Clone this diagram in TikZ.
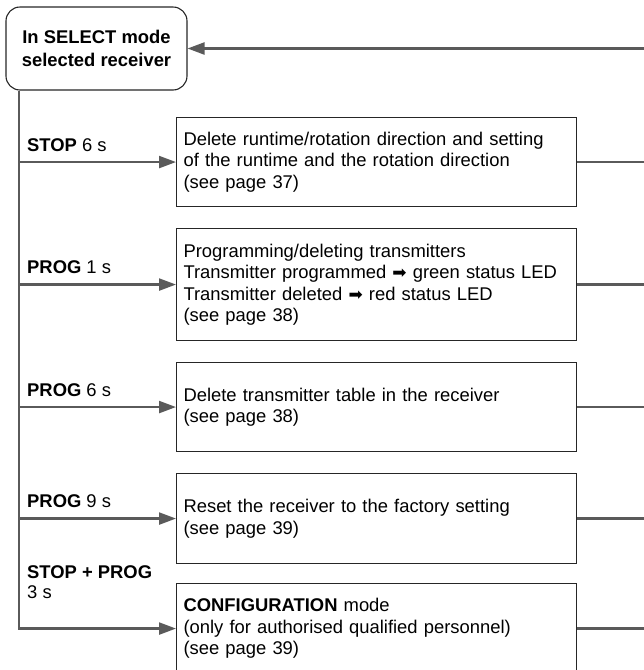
\documentclass[tikz,border=0pt]{standalone}
\usepackage{fontspec}
\setmainfont{Liberation Sans}
\newfontfamily\djv{DejaVu Sans}
\usetikzlibrary{arrows.meta}
\definecolor{linegray}{HTML}{5A5A5A}
\newcommand{\rarr}{{\djv\fontsize{17}{17}\selectfont\raisebox{0pt}{\symbol{"27A1}}}}
\begin{document}
\begin{tikzpicture}[x=1pt,y=-1pt,
  conn/.style={draw=linegray, line width=2.3pt},
  arr/.style={conn, -{Triangle[length=17pt,width=12pt]}},
  actbox/.style={draw=black!85, line width=1.1pt, minimum width=400pt, text width=386pt,
    align=left, inner xsep=7pt, inner ysep=0pt, anchor=north west,
    font=\fontsize{18.4}{21.5}\selectfont},
  lbl/.style={anchor=base west, inner sep=0pt, align=left, font=\fontsize{18.4}{20}\selectfont},
  topbox/.style={draw=black!85, line width=1.1pt, rounded corners=14pt, minimum width=181pt,
    minimum height=83pt, align=center, inner sep=0pt, font=\fontsize{18.4}{23}\selectfont\bfseries}
]
\useasboundingbox (0,0) rectangle (644,670);

\node[topbox] (top) at (96.5,48.5) {In SELECT mode\\selected receiver};

\node[actbox, minimum height=89pt] (b1) at (176,117)
  {Delete runtime/rotation direction and setting\\of the runtime and the rotation direction\\(see page 37)};
\node[actbox, minimum height=112pt] (b2) at (176,228)
  {Programming/deleting transmitters\\Transmitter programmed \rarr{} green status LED\\Transmitter deleted \rarr{} red status LED\\(see page 38)};
\node[actbox, minimum height=89pt] (b3) at (176,362)
  {Delete transmitter table in the receiver\\(see page 38)};
\node[actbox, minimum height=90pt] (b4) at (176,473)
  {Reset the receiver to the factory setting\\(see page 39)};
\node[actbox, minimum height=90pt] (b5) at (176,583)
  {\textbf{CONFIGURATION} mode\\(only for authorised qualified personnel)\\(see page 39)};

\node[lbl] (l1) at (27,151) {\textbf{STOP} 6 s};
\node[lbl] (l2) at (27,273.5) {\textbf{PROG} 1 s};
\node[lbl] (l3) at (27,396.5) {\textbf{PROG} 6 s};
\node[lbl] (l4) at (27,507.5) {\textbf{PROG} 9 s};
\node[lbl] (l5) at (27,598.5) {\textbf{STOP + PROG}\\3 s};

\coordinate (vx) at (19,0);
\coordinate (re) at (644,0);

\draw[arr] (top.south -| vx) -- (vx |- b5.west) -- (b5.west);
\draw[arr] (vx |- b1.west) -- (b1.west);
\draw[arr] (vx |- b2.west) -- (b2.west);
\draw[arr] (vx |- b3.west) -- (b3.west);
\draw[arr] (vx |- b4.west) -- (b4.west);

\draw[conn] (b1.east) -- (b1.east -| re);
\draw[conn] (b2.east) -- (b2.east -| re);
\draw[conn] (b3.east) -- (b3.east -| re);
\draw[conn] (b4.east) -- (b4.east -| re);
\draw[conn] (b5.east) -- (b5.east -| re);
\draw[arr] (top.east -| re) -- (top.east);
\end{tikzpicture}
\end{document}
